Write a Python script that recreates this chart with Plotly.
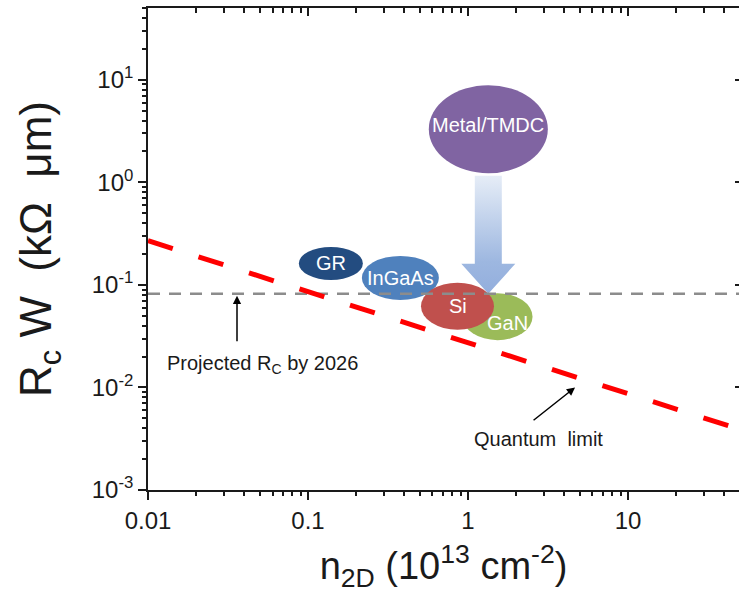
import numpy as np
import plotly.graph_objects as go

# ---- data -------------------------------------------------------------
# quantum-limit contact resistance (R_c W, kOhm um) vs sheet density n2D (1e13 cm^-2)
quantum_n = [0.01, 50]
quantum_rw = [0.27, 0.0039]

# projected contact resistance target
projected_n = [0.01, 50]
projected_rw = [0.082, 0.082]

# reported contact technologies (bubble centres)
materials = ["GR", "InGaAs", "GaN", "Si", "Metal/TMDC"]
material_n = [0.139, 0.378, 1.53, 0.86, 1.34]
material_rw = [0.162, 0.117, 0.049, 0.062, 3.3]

# axis ticks
x_tickvals = [0.01, 0.1, 1, 10]
x_ticktext = ["0.01", "0.1", "1", "10"]
y_tickvals = [1e-3, 1e-2, 1e-1, 1e0, 1e1]
y_ticktext = ["10<sup>-3</sup>", "10<sup>-2</sup>", "10<sup>-1</sup>",
              "10<sup>0</sup>", "10<sup>1</sup>"]
minor_vals = [m * 10.0 ** k for k in range(-4, 3) for m in range(2, 10)]

# ---- style ------------------------------------------------------------
FONT = "Arial, 'Liberation Sans', sans-serif"
INK = "#1a1a1a"
W, H = 739, 603
ML, MR, MT, MB = 148, 0, 8, 113
XR = [-2, 1.694]
YR = [-3, 1.70]
PX_DEC_X = (W - ML - MR) / (XR[1] - XR[0])
PX_DEC_Y = (H - MT - MB) / (YR[1] - YR[0])

bubble_style = {
    "GR": dict(color="#234C80", w=64, h=33, dx=0, dy=0),
    "InGaAs": dict(color="#4F81BD", w=77, h=44, dx=0, dy=0),
    "GaN": dict(color="#9BBB59", w=70, h=47, dx=10, dy=-6),
    "Si": dict(color="#C0504D", w=73, h=47, dx=0, dy=0),
    "Metal/TMDC": dict(color="#8064A2", w=119, h=88, dx=0, dy=4),
}


def offset(v, px, px_per_dec):
    """Shift a value on a log axis by a distance given in pixels."""
    return 10 ** (np.log10(v) + px / px_per_dec)


fig = go.Figure()

# bubbles
shapes = []
annotations = []
for name, n, rw in zip(materials, material_n, material_rw):
    st = bubble_style[name]
    shapes.append(dict(
        type="circle", xref="x", yref="y",
        x0=offset(n, -st["w"] / 2, PX_DEC_X), x1=offset(n, st["w"] / 2, PX_DEC_X),
        y0=offset(rw, -st["h"] / 2, PX_DEC_Y), y1=offset(rw, st["h"] / 2, PX_DEC_Y),
        fillcolor=st["color"], line=dict(width=0), layer="below",
    ))
    annotations.append(dict(
        x=np.log10(n), y=np.log10(rw), xref="x", yref="y",
        text=name, showarrow=False, xshift=st["dx"], yshift=st["dy"],
        font=dict(family=FONT, size=20, color="white"),
    ))

# gradient arrow from the Metal/TMDC bubble down to the projected target
tmdc_n = material_n[materials.index("Metal/TMDC")]
arrow_px = [(0, 0), (27, 30), (13.5, 30), (13.5, 118), (-13.5, 118),
            (-13.5, 30), (-27, 30), (0, 0)]
arr_x = [offset(tmdc_n, dx, PX_DEC_X) for dx, _ in arrow_px]
arr_y = [offset(projected_rw[0], dy, PX_DEC_Y) for _, dy in arrow_px]
fig.add_trace(go.Scatter(
    x=arr_x, y=arr_y, mode="lines", fill="toself",
    line=dict(width=0, color="rgba(0,0,0,0)"),
    fillgradient=dict(type="vertical",
                      colorscale=[[0, "#93AEDD"], [0.27, "#9DB7E0"], [1, "#E6EDF7"]]),
    hoverinfo="skip", showlegend=False,
))

# projected target line
fig.add_trace(go.Scatter(
    x=projected_n, y=projected_rw, mode="lines",
    line=dict(color="#8C8C8C", width=2.5, dash="12px,9px"),
    showlegend=False, hoverinfo="skip",
))

# quantum limit line
fig.add_trace(go.Scatter(
    x=quantum_n, y=quantum_rw, mode="lines",
    line=dict(color="#FF0000", width=5, dash="26px,27px"),
    showlegend=False, hoverinfo="skip",
))

# invisible helpers so every frame / minor-tick axis gets drawn
for xa, ya in [("x2", "y2"), ("x3", "y"), ("x4", "y"), ("x", "y3")]:
    fig.add_trace(go.Scatter(
        x=[1], y=[1], xaxis=xa, yaxis=ya, mode="markers",
        marker=dict(opacity=0), showlegend=False,
    ))

# callouts
annotations += [
    dict(x=np.log10(0.036), y=np.log10(projected_rw[0]), xref="x", yref="y",
         ax=0, ay=47, axref="pixel", ayref="pixel", yshift=-2,
         text="", showarrow=True, arrowhead=2, arrowsize=1.1, arrowwidth=1.5,
         arrowcolor="black"),
    dict(x=np.log10(0.0516), y=np.log10(0.0166), xref="x", yref="y",
         text="Projected R<sub>C</sub> by 2026", showarrow=False,
         font=dict(family=FONT, size=20, color=INK)),
    dict(x=np.log10(4.67), y=np.log10(0.01), xref="x", yref="y",
         ax=-43, ay=34, text="", showarrow=True, arrowhead=2, arrowsize=1.1,
         arrowwidth=1.5, arrowcolor="black"),
    dict(x=np.log10(2.74), y=np.log10(0.00311), xref="x", yref="y",
         text="Quantum  limit", showarrow=False,
         font=dict(family=FONT, size=20, color=INK)),
]

axis_common = dict(
    type="log", showgrid=False, zeroline=False,
    linecolor=INK, linewidth=1.6,
    tickcolor=INK, tickwidth=1.6,
    tickfont=dict(family=FONT, size=24, color=INK),
)


def tick_axis(rng, over, side, anchor, direction, length, vals):
    """Overlay axis that only contributes tick marks."""
    return dict(type="log", range=rng, overlaying=over, side=side, anchor=anchor,
                showline=False, showgrid=False, zeroline=False, ticks=direction,
                ticklen=length, tickwidth=2, tickcolor=INK,
                showticklabels=False, tickmode="array", tickvals=vals)


fig.update_layout(
    width=W, height=H,
    margin=dict(l=ML, r=MR, t=MT, b=MB),
    plot_bgcolor="white",
    showlegend=False,
    shapes=shapes, annotations=annotations,
    xaxis=dict(
        **axis_common, range=XR, showline=True, mirror=True,
        ticks="outside", ticklen=8,
        tickmode="array", tickvals=x_tickvals, ticktext=x_ticktext,
        title=dict(text="n<sub>2D</sub> (10<sup>13</sup> cm<sup>-2</sup>)",
                   font=dict(family=FONT, size=38, color=INK), standoff=20),
    ),
    yaxis=dict(
        **axis_common, range=YR, showline=True, mirror=False,
        ticks="outside", ticklen=8,
        tickmode="array", tickvals=y_tickvals, ticktext=y_ticktext,
        title=dict(text="R<sub>c</sub> W  (k\u03a9  \u03bcm)",
                   font=dict(family=FONT, size=44, color=INK), standoff=26),
    ),
    xaxis2=tick_axis(XR, "x", "top", "y2", "inside", 8, x_tickvals),
    yaxis2=tick_axis(YR, "y", "right", "x2", "inside", 4, y_tickvals),
    xaxis3=tick_axis(XR, "x", "bottom", "y", "outside", 5, minor_vals),
    xaxis4=tick_axis(XR, "x", "top", "y", "inside", 5, minor_vals),
    yaxis3=tick_axis(YR, "y", "left", "x", "outside", 5, minor_vals),
)

fig.write_html("out.html")
